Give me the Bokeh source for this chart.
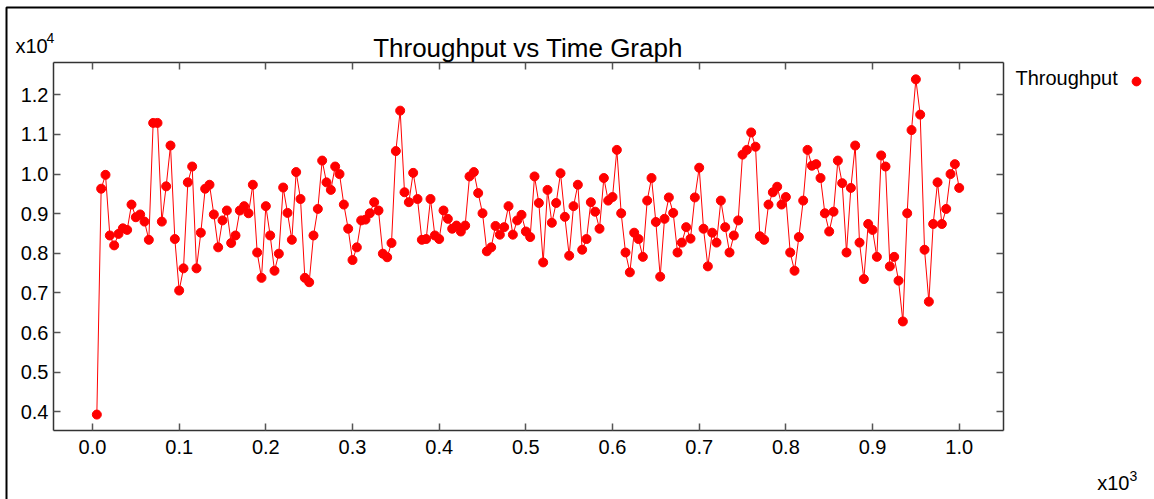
from bokeh.plotting import figure
from bokeh.models import (Range1d, LinearAxis, FixedTicker, Label, Legend, LegendItem,
                          BoxAnnotation, ColumnDataSource)
from bokeh.core.properties import value
from bokeh.embed import file_html
from bokeh.resources import INLINE

# ---- data ----
time_ms = list(range(5, 1005, 5))
throughput = [
    3930, 9630, 9980, 8450, 8200, 8490, 8630, 8590, 9230, 8910,
    8980, 8800, 8340, 11290, 11290, 8800, 9690, 10720, 8360, 7060,
    7620, 9790, 10190, 7620, 8520, 9630, 9730, 8980, 8150, 8830,
    9080, 8260, 8450, 9080, 9190, 9010, 9730, 8020, 7380, 9190,
    8450, 7560, 7990, 9660, 9020, 8340, 10050, 9370, 7380, 7270,
    8450, 9120, 10340, 9790, 9600, 10190, 10000, 9230, 8620, 7830,
    8150, 8830, 8850, 9010, 9290, 9080, 7990, 7900, 8260, 10580,
    11600, 9540, 9290, 10030, 9370, 8340, 8360, 9370, 8450, 8360,
    9080, 8870, 8620, 8700, 8550, 8700, 9940, 10050, 9520, 9010,
    8050, 8150, 8690, 8470, 8660, 9190, 8470, 8830, 8970, 8550,
    8410, 9940, 9270, 7770, 9600, 8770, 9270, 10020, 8920, 7940,
    9190, 9730, 8090, 8360, 9290, 9050, 8620, 9900, 9330, 9420,
    10610, 9010, 8020, 7520, 8520, 8360, 7910, 9330, 9900, 8790,
    7410, 8870, 9410, 9020, 8020, 8270, 8660, 8370, 9410, 10160,
    8620, 7670, 8520, 8270, 9330, 8660, 8020, 8450, 8830, 10490,
    10610, 11050, 10690, 8430, 8340, 9230, 9540, 9680, 9230, 9420,
    8020, 7560, 8410, 9330, 10610, 10210, 10250, 9900, 9010, 8550,
    9050, 10340, 9770, 8020, 9650, 10720, 8270, 7350, 8740, 8590,
    7910, 10470, 10190, 7670, 7910, 7310, 6280, 9010, 11110, 12390,
    11500, 8090, 6780, 8740, 9790, 8740, 9120, 10000, 10250, 9650,
]
x_ticks = [0, 100, 200, 300, 400, 500, 600, 700, 800, 900, 1000]
x_tick_labels = ["0.0", "0.1", "0.2", "0.3", "0.4", "0.5", "0.6", "0.7", "0.8", "0.9", "1.0"]
y_ticks = [4000, 5000, 6000, 7000, 8000, 9000, 10000, 11000, 12000]
y_tick_labels = ["0.4", "0.5", "0.6", "0.7", "0.8", "0.9", "1.0", "1.1", "1.2"]
title_text = "Throughput vs Time Graph"
series_name = "Throughput"

# ---- layout (pixels) ----
W, H = 1154, 499
BOX_L, BOX_R, BOX_T, BOX_B = 53, 1003, 62, 430
KX = (958.7 - 92.0) / 1000.0
KY = (411.3 - 94.3) / 8000.0


def dx(px):
    return (px - 92.0) / KX


def dy(py):
    return 4000 + (411.3 - py) / KY


FONT = "Liberation Sans"

p = figure(width=W, height=H, output_backend="svg", toolbar_location=None,
           x_range=Range1d(dx(0), dx(W)), y_range=Range1d(dy(H), dy(0)),
           x_axis_type=None, y_axis_type=None,
           min_border=0, min_border_left=0, min_border_right=0,
           min_border_top=0, min_border_bottom=0)
p.xgrid.visible = False
p.ygrid.visible = False
p.outline_line_color = None
p.background_fill_color = "white"
p.border_fill_color = "white"

xb = (dx(BOX_L), dx(BOX_R))
yb = (dy(BOX_B), dy(BOX_T))


def mk_axis(ticks, labels, show, bounds, fixed):
    ax = LinearAxis(ticker=FixedTicker(ticks=ticks), bounds=bounds, fixed_location=fixed)
    ax.major_label_overrides = {t: (l if show else "") for t, l in zip(ticks, labels)}
    ax.major_tick_in = 7
    ax.major_tick_out = 0
    ax.minor_tick_in = 0
    ax.minor_tick_out = 0
    ax.major_tick_line_color = "#555555"
    ax.major_tick_line_width = 1.5
    ax.axis_line_color = "#333333"
    ax.axis_line_width = 1.5
    ax.major_label_text_font = FONT
    ax.major_label_text_font_size = "20px"
    ax.major_label_text_color = "black"
    return ax


bx = mk_axis(x_ticks, x_tick_labels, True, xb, yb[0])
bx.major_label_standoff = 9
p.add_layout(bx, "below")
tx = mk_axis(x_ticks, x_tick_labels, False, xb, yb[1])
tx.major_label_standoff = 0
p.add_layout(tx, "above")
ly = mk_axis(y_ticks, y_tick_labels, True, yb, xb[0])
ly.major_label_standoff = 5
p.add_layout(ly, "left")
ry = mk_axis(y_ticks, y_tick_labels, False, yb, xb[1])
ry.major_label_standoff = 0
p.add_layout(ry, "right")

src = ColumnDataSource(dict(t=time_ms, v=throughput))
p.line("t", "v", source=src, line_color="red", line_width=1)
sc = p.scatter("t", "v", source=src, size=9, fill_color="red", line_color="red")

SHIFT = 8  # empirical baseline correction


def lab(text, x, y, size, align="left"):
    p.add_layout(Label(x=x, y=H - (y - SHIFT), x_units="screen", y_units="screen", text=text,
                       text_font=FONT, text_font_size=size, text_color="black",
                       text_align=align, text_baseline="alphabetic"))


lab(title_text, 527.5, 55.7, "26px", "center")
lab("x10", 15, 53.3, "20px")
lab("4", 46, 45, "14px")
lab("x10", 1096.7, 490, "20px")
lab("3", 1129, 483, "14px")
lab(series_name, 1015, 85, "20px")

legend = Legend(items=[LegendItem(label=value(" "), renderers=[sc])],
                location=(1135.7 - 11, H - (80.7 + 11)),
                glyph_width=22, glyph_height=22, label_height=22, label_width=1,
                label_standoff=0, padding=0, margin=0, spacing=0,
                border_line_alpha=0, background_fill_alpha=0,
                label_text_font_size="1px")
p.add_layout(legend, "center")

p.add_layout(BoxAnnotation(left=6, right=W + 50, top=H - 7, bottom=-50,
                           left_units="screen", right_units="screen",
                           top_units="screen", bottom_units="screen",
                           fill_alpha=0, line_color="black", line_alpha=1.0,
                           line_width=2))

open("out.html", "w").write(file_html(p, INLINE))
